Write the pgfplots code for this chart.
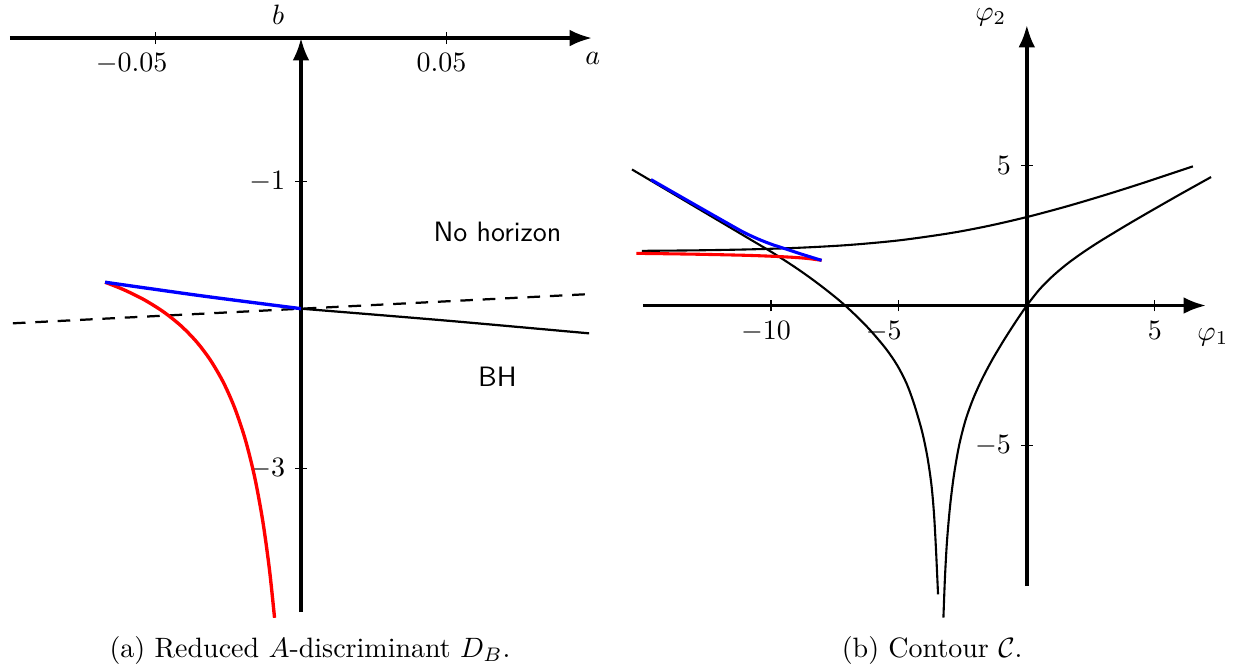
\documentclass[border=0pt]{standalone}
\usepackage{pgfplots}
\pgfplotsset{compat=1.18}
\usetikzlibrary{arrows.meta}

\pgfplotsset{
  midaxes/.style={
    axis lines=middle,
    scale only axis,
    anchor=south west,
    clip=false,
    axis line style={line width=1.2pt, -{Latex[length=8pt,width=6pt]}},
    major tick style={line width=0.4pt, black},
  },
}

\begin{document}
\begin{tikzpicture}
\useasboundingbox (0,0) rectangle (441.79pt,239.29pt);

% (a) reduced A-discriminant
\begin{axis}[
  midaxes,
  at={(3.57pt,20.71pt)},
  width=207.86pt, height=205pt,
  xmin=-0.1, xmax=0.1, ymin=-4, ymax=0,
  xtick={-0.05,0.05}, ytick={-3,-1},
  xticklabels={\hspace*{-17pt}$-0.05$, \hspace*{-3.6pt}$0.05$},
]
\addplot[black, line width=0.8pt, dash pattern=on 4.5pt off 3.5pt]
  coordinates {(-0.099,-1.988) (0.0985,-1.785)};
\addplot[black, line width=0.8pt, smooth]
  coordinates {(0,-1.886) (0.0493,-1.968) (0.099,-2.058)};
\addplot[red, line width=1.2pt, smooth]
  coordinates {(-0.06732,-1.7017) (-0.06104,-1.7526) (-0.05404,-1.8223) (-0.04741,-1.9059)
               (-0.04135,-2.0035) (-0.03597,-2.1150) (-0.03127,-2.2404) (-0.02683,-2.3937)
               (-0.02284,-2.5749) (-0.01914,-2.7979) (-0.01589,-3.0627) (-0.01311,-3.3693)
               (-0.01084,-3.7038) (-0.00909,-4.0404)};
\addplot[blue, line width=1.2pt, smooth]
  coordinates {(-0.06732,-1.7017) (-0.034,-1.797) (0,-1.886)};
\node at (axis cs:0.1003,-0.139) {$a$};
\node at (axis cs:-0.0079,0.16) {$b$};
\node at (axis cs:0.0675,-1.352) {\sffamily No horizon};
\node at (axis cs:0.0675,-2.362) {\sffamily BH};
\end{axis}

% (b) contour
\begin{axis}[
  midaxes,
  at={(229.64pt,30pt)},
  width=201.07pt, height=200.36pt,
  xmin=-15, xmax=7, ymin=-10, ymax=10,
  xtick={-10,-5,5}, ytick={-5,5},
  xticklabels={\hspace*{-3.6pt}$-10$, \hspace*{-10.8pt}$-5$, $5$},
]
\addplot[black, line width=0.75pt, smooth]
  coordinates {(-15.43,4.85) (-14,4.08) (-12.5,3.27) (-11,2.46) (-10,1.92) (-9.5,1.63)
               (-9,1.33) (-8.5,1.01) (-8,0.67) (-7.5,0.31) (-7.1,0.0) (-6.6,-0.43)
               (-6.1,-0.9) (-5.5,-1.55) (-5.06,-2.14) (-4.7,-2.78) (-4.41,-3.5)
               (-4.1,-4.47) (-3.89,-5.38) (-3.73,-6.38) (-3.63,-7.4) (-3.55,-8.7)
               (-3.47,-10.3)};
\addplot[black, line width=0.75pt, smooth]
  coordinates {(-3.26,-11.13) (-3.2,-9.7) (-3.12,-8.4) (-3.0,-7.15) (-2.85,-6.05)
               (-2.65,-5.0) (-2.4,-4.1) (-2.1,-3.33) (-1.75,-2.62) (-1.35,-1.93)
               (-0.9,-1.24) (-0.45,-0.6) (0,0) (0.5,0.58) (1,1.04) (1.5,1.43) (2,1.77)
               (2.5,2.08) (3,2.37) (4,2.92) (5,3.45) (6,3.97) (7.2,4.58)};
\addplot[black, line width=0.75pt, smooth]
  coordinates {(-15.04,1.949) (-13,1.966) (-11,1.998) (-9,2.055) (-7,2.155) (-5,2.322)
               (-3,2.579) (-1.5,2.838) (0,3.154) (1.5,3.519) (3,3.924) (4.5,4.357)
               (6.49,4.961)};
\addplot[red, line width=1.1pt, smooth]
  coordinates {(-15.26,1.86) (-13,1.83) (-11,1.79) (-9.8,1.75) (-9,1.71) (-8.5,1.67)
               (-8.02,1.61)};
\addplot[blue, line width=1.1pt, smooth]
  coordinates {(-14.69,4.49) (-13.1,3.66) (-11.5,2.83) (-11,2.58) (-10.5,2.37)
               (-10,2.19) (-9.5,2.04) (-8.8,1.83) (-8.02,1.61)};
\node at (axis cs:-1.41,10.27) {$\varphi_2$};
\node at (axis cs:7.27,-1.14) {$\varphi_1$};
\end{axis}

\node at (110.7pt,7.14pt) {(a) Reduced $A$-discriminant $D_B$.};
\node at (332.9pt,7.14pt) {(b) Contour $\mathcal{C}$.};
\end{tikzpicture}
\end{document}
